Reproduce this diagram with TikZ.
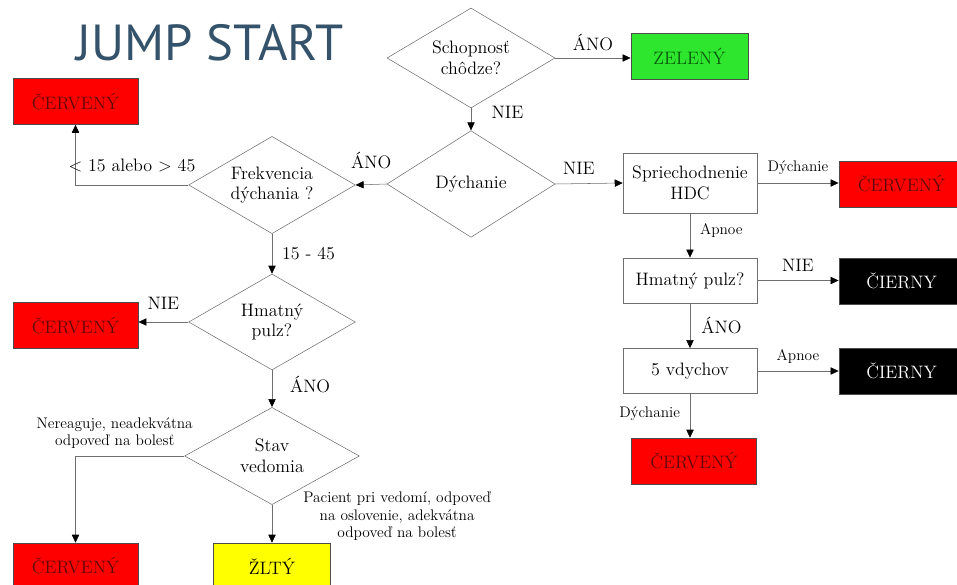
\documentclass[tikz,border=0pt]{standalone}
\usepackage{fontspec}
\newfontfamily\titlefont{PT Sans}
\newcommand\boxfont{\rmfamily}
\usetikzlibrary{shapes.geometric,arrows.meta}
\definecolor{titleblue}{HTML}{34536A}
\definecolor{linegray}{HTML}{6E6E6E}
\definecolor{redfill}{HTML}{FF0000}
\definecolor{redtext}{HTML}{5E0A0A}
\definecolor{greenfill}{HTML}{2EE62E}
\definecolor{greentext}{HTML}{0B5A0B}
\definecolor{yellowfill}{HTML}{FFFF00}
\tikzset{
  maintext/.style={font=\boxfont\fontsize{13.5}{15.5}\selectfont},
  smalltext/.style={font=\boxfont\fontsize{11.5}{13}\selectfont},
  decision/.style={diamond, draw=linegray, aspect=1.7, inner sep=0pt, align=center, maintext},
  stepbox/.style={rectangle, draw=linegray, minimum width=100.5pt, minimum height=34pt, align=center, maintext},
  colorbox/.style={rectangle, draw=black!70, minimum width=94pt, minimum height=34.5pt, maintext},
  redbox/.style={colorbox, fill=redfill, text=redtext},
  blackbox/.style={colorbox, fill=black, text=white},
  link/.style={draw=linegray, ->}
}
\begin{document}
\begin{tikzpicture}[x=0.75pt,y=-0.75pt, >={Triangle[length=6pt,width=5.5pt,color=black]}]
    \useasboundingbox (0,0) rectangle (957,585);
    \node[text=titleblue, font=\titlefont\fontsize{38}{42}\selectfont] (title) at (210,43) {JUMP START};
    % left part
    \node[decision, minimum width=126pt, minimum height=75pt] (chodza) at (471,58) {Schopnosť\\chôdze?};
    \node[decision, minimum width=126pt, minimum height=80pt] (dychanie) at (471,184) {Dýchanie};
    \node[decision, minimum width=125pt, minimum height=73pt] (frekv) at (272,185) {Frekvencia\\dýchania ?};
    \node[decision, minimum width=125pt, minimum height=72pt] (pulz) at (272,322) {Hmatný\\pulz?};
    \node[decision, minimum width=131pt, minimum height=73pt] (vedomie) at (272,456) {Stav\\vedomia};
    \node[colorbox, fill=greenfill, text=greentext, minimum width=88pt] (zeleny) at (689.5,56) {ZELENÝ};
    \node[redbox] (cerv1) at (75.5,101.5) {ČERVENÝ};
    \node[redbox] (cerv2) at (75.5,325.5) {ČERVENÝ};
    \node[redbox] (cerv3) at (75.5,566) {ČERVENÝ};
    \node[colorbox, fill=yellowfill, text=black, minimum width=88pt] (zlty) at (272,566) {ŽLTÝ};
    % right part
    \node[stepbox, minimum height=45pt] (hdc) at (690,183) {Spriechodnenie\\HDC};
    \node[stepbox] (hpulz) at (690,280.5) {Hmatný pulz?};
    \node[stepbox] (vdychy) at (690,371) {5 vdychov};
    \node[redbox] (cerv4) at (901.5,184) {ČERVENÝ};
    \node[blackbox] (cierny1) at (901.5,281) {ČIERNY};
    \node[blackbox] (cierny2) at (901.5,371) {ČIERNY};
    \node[redbox] (cerv5) at (694,461) {ČERVENÝ};
    \draw[link] (chodza.east) -- node[midway,above=2pt,maintext] {ÁNO} (chodza.east -| zeleny.west);
    \draw[link] (chodza.south) -- node[pos=0.2,right=12pt,maintext] {NIE} (dychanie.north);
    \draw[link] (dychanie.west) -- node[midway,above=8pt,maintext] {ÁNO} (frekv.east);
    \draw[link] (frekv.west) -| node[pos=0.25,above=6pt,maintext] {< 15 alebo > 45} (cerv1.south);
    \draw[link] (frekv.south) -- node[midway,right=4pt,maintext] {15 - 45} (pulz.north);
    \draw[link] (pulz.west) -- node[midway,above=6pt,maintext] {NIE} (pulz.west -| cerv2.east);
    \draw[link] (pulz.south) -- node[pos=0.4,right=10pt,maintext] {ÁNO} (vedomie.north);
    \draw[link] (vedomie.west) -| node[pos=0.32,above=2pt,smalltext,align=center] {Nereaguje, neadekvátna\\odpoveď na bolesť} (cerv3.north);
    \draw[link] (vedomie.south) -- node[pos=0.3,right=20pt,smalltext,align=center] {Pacient pri vedomí, odpoveď\\na oslovenie, adekvátna\\odpoveď na bolesť} (zlty.north);
    \draw[link] (dychanie.east) -- node[pos=0.35,above=3pt,maintext] {NIE} (hdc.west);
    \draw[link] (hdc.east) -- node[midway,above=3pt,smalltext] {Dýchanie} (hdc.east -| cerv4.west);
    \draw[link] (hdc.south) -- node[pos=0.4,right=4pt,smalltext] {Apnoe} (hpulz.north);
    \draw[link] (hpulz.east) -- node[midway,above=3pt,maintext] {NIE} (hpulz.east -| cierny1.west);
    \draw[link] (hpulz.south) -- node[midway,right=5pt,maintext] {ÁNO} (vdychy.north);
    \draw[link] (vdychy.east) -- node[midway,above=2pt,smalltext] {Apnoe} (vdychy.east -| cierny2.west);
    \draw[link] (vdychy.south) -- node[pos=0.45,left=4pt,smalltext] {Dýchanie} (vdychy.south |- cerv5.north);
\end{tikzpicture}
\end{document}
